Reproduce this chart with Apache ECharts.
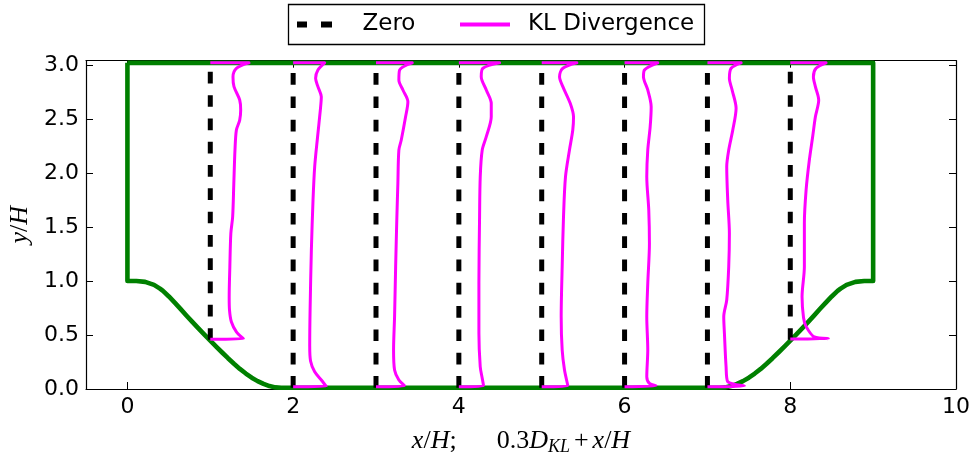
<!DOCTYPE html>
<html><head><meta charset="utf-8">
<script src="https://cdn.jsdelivr.net/npm/echarts@6/dist/echarts.min.js"></script>
<style>html,body{margin:0;padding:0;background:#fff}#c{width:976px;height:458px}</style>
</head><body><div id="c"></div>
<script>
// ---- data ----
const xTicks = [0, 2, 4, 6, 8, 10];
const yTicks = [0, 0.5, 1, 1.5, 2, 2.5, 3];
const wallTop = 3.02;
const hillLeft = [[0,1.0],[0.107,1.0],[0.214,0.992],[0.321,0.964],[0.393,0.929],[0.429,0.908],[0.5,0.857],[0.571,0.800],[0.643,0.740],[0.714,0.679],[0.786,0.619],[0.857,0.561],[0.929,0.504],[1.0,0.448],[1.071,0.393],[1.143,0.338],[1.214,0.285],[1.286,0.234],[1.357,0.186],[1.429,0.143],[1.5,0.105],[1.571,0.073],[1.643,0.047],[1.714,0.027],[1.786,0.015],[1.857,0.012],[1.929,0.012]];
const hillRight = [[7.071,0.012],[7.143,0.012],[7.214,0.015],[7.286,0.027],[7.357,0.047],[7.429,0.073],[7.5,0.105],[7.571,0.143],[7.643,0.186],[7.714,0.234],[7.786,0.285],[7.857,0.338],[7.929,0.393],[8.0,0.448],[8.071,0.504],[8.143,0.561],[8.214,0.619],[8.286,0.679],[8.357,0.740],[8.429,0.800],[8.5,0.857],[8.571,0.908],[8.607,0.929],[8.679,0.964],[8.786,0.992],[8.893,1.0],[9,1.0]];
const zeroStations = [1, 2, 3, 4, 5, 6, 7, 8];
const zeroBottom = [0.455, 0.012, 0.012, 0.012, 0.012, 0.012, 0.012, 0.455];
// KL divergence profiles, plotted as 0.3*D_KL + x/H (x, y/H)
const kl1 = [[1.0,0.46],[1.40,0.465],[1.315,0.53],[1.254,0.623],[1.232,0.73],[1.228,0.85],[1.236,1.13],[1.248,1.44],[1.27,1.595],[1.284,1.905],[1.298,2.213],[1.315,2.398],[1.355,2.49],[1.367,2.583],[1.355,2.676],[1.286,2.80],[1.274,2.89],[1.315,2.97],[1.467,3.02],[1.0,3.02]];
const kl2 = [[2.0,0.02],[2.40,0.025],[2.34,0.083],[2.26,0.16],[2.21,0.26],[2.2,0.4],[2.205,0.75],[2.22,1.287],[2.24,1.75],[2.26,2.058],[2.295,2.336],[2.328,2.583],[2.34,2.706],[2.299,2.80],[2.271,2.877],[2.299,2.954],[2.38,3.02],[2.0,3.02]];
const kl3 = [[3.0,0.02],[3.345,0.03],[3.276,0.083],[3.224,0.176],[3.212,0.361],[3.224,0.669],[3.237,1.132],[3.252,1.595],[3.264,1.905],[3.276,2.213],[3.305,2.306],[3.357,2.52],[3.385,2.66],[3.325,2.769],[3.276,2.861],[3.285,2.954],[3.438,3.02],[3.0,3.02]];
const kl4 = [[4.0,0.02],[4.298,0.03],[4.282,0.099],[4.258,0.206],[4.242,0.516],[4.242,0.979],[4.25,1.595],[4.258,1.966],[4.282,2.213],[4.331,2.336],[4.391,2.52],[4.391,2.645],[4.331,2.769],[4.27,2.892],[4.29,2.97],[4.491,3.02],[4.0,3.02]];
const kl5 = [[5.0,0.02],[5.315,0.03],[5.275,0.176],[5.247,0.361],[5.235,0.669],[5.247,1.132],[5.263,1.595],[5.287,1.966],[5.335,2.213],[5.375,2.398],[5.384,2.52],[5.344,2.645],[5.255,2.80],[5.215,2.892],[5.255,2.97],[5.424,3.02],[5.0,3.02]];
const kl6 = [[6.0,0.02],[6.381,0.03],[6.30,0.052],[6.268,0.114],[6.28,0.361],[6.268,0.669],[6.28,0.979],[6.30,1.349],[6.292,1.657],[6.268,1.966],[6.28,2.213],[6.309,2.429],[6.321,2.614],[6.28,2.769],[6.228,2.892],[6.24,2.954],[6.401,3.02],[6.0,3.02]];
const kl7 = [[7.0,0.02],[7.446,0.028],[7.245,0.068],[7.225,0.206],[7.205,0.516],[7.197,0.669],[7.233,0.824],[7.257,1.132],[7.265,1.44],[7.245,1.75],[7.233,2.058],[7.257,2.213],[7.306,2.398],[7.346,2.599],[7.298,2.769],[7.265,2.877],[7.286,2.97],[7.407,3.02],[7.0,3.02]];
const kl8 = [[8.0,0.463],[8.46,0.466],[8.29,0.482],[8.19,0.58],[8.16,0.66],[8.142,0.855],[8.17,1.132],[8.17,1.534],[8.191,1.843],[8.23,2.12],[8.27,2.336],[8.303,2.52],[8.343,2.676],[8.303,2.80],[8.279,2.892],[8.311,2.97],[8.432,3.02],[8.0,3.02]];
const klProfiles = [kl1, kl2, kl3, kl4, kl5, kl6, kl7, kl8];

// ---- chart ----
const chart = echarts.init(document.getElementById('c'), null, {renderer: 'canvas'});
const geometry = [[0, wallTop]].concat(hillLeft, hillRight, [[9, wallTop], [0, wallTop]]);

const series = [{
  name: 'Geometry', type: 'line', data: geometry, symbol: 'none', silent: true,
  lineStyle: {color: '#008000', width: 4.6, join: 'round'}, z: 2
}];
zeroStations.forEach((x, i) => {
  series.push({
    name: 'Zero', type: 'line', symbol: 'none', silent: true, color: '#000',
    data: [[x, zeroBottom[i]], [x, wallTop]],
    lineStyle: {color: '#000', width: 5, type: [11.7, 11.6], cap: 'butt'}, z: 3
  });
});
klProfiles.forEach(p => {
  series.push({
    name: 'KL Divergence', type: 'line', symbol: 'none', silent: true, color: '#ff00ff',
    data: p, smooth: 0.3, lineStyle: {color: '#ff00ff', width: 3, join: 'round'}, z: 4
  });
});

const tickFont = {fontSize: 22, fontFamily: 'DejaVu Sans', color: '#000'};
const mathRich = {
  i: {fontFamily: 'Liberation Serif', fontStyle: 'italic', fontSize: 26, color: '#000', lineHeight: 30},
  n: {fontFamily: 'Liberation Serif', fontSize: 26, color: '#000', lineHeight: 30},
  p: {fontFamily: 'Liberation Serif', fontSize: 26, color: '#000', lineHeight: 30, padding: [0, 4, 0, 4]},
  sp: {fontFamily: 'Liberation Serif', fontSize: 26, width: 40, lineHeight: 30},
  sub: {fontFamily: 'Liberation Serif', fontStyle: 'italic', fontSize: 18, color: '#000', verticalAlign: 'bottom', lineHeight: 30}
};
const axisLineStyle = {color: '#000', width: 1.2};

chart.setOption({
  animation: false,
  backgroundColor: '#fff',
  grid: {left: 86, right: 20, top: 60.7, bottom: 69, containLabel: false, outerBoundsMode: 'none'},
  graphic: [{
    type: 'rect', z: 1, silent: true,
    shape: {x: 288.5, y: 4.5, width: 416, height: 40},
    style: {fill: 'none', stroke: '#000', lineWidth: 1.3}
  }],
  legend: [{
    left: 297, top: 13, padding: 0, itemWidth: 36, itemHeight: 6, itemGap: 0,
    selectedMode: false,
    data: [{name: 'Zero', icon: 'path://M0,0h10v6h-10zM24,0h11v6h-11z', itemStyle: {color: '#000', borderWidth: 0}}],
    textStyle: {fontSize: 23, fontFamily: 'DejaVu Sans', color: '#000', padding: [0, 0, 0, 25]}
  }, {
    left: 460, top: 13, padding: 0, itemWidth: 50, itemHeight: 4, itemGap: 0,
    selectedMode: false,
    data: [{name: 'KL Divergence', icon: 'rect', itemStyle: {color: '#ff00ff', borderWidth: 0}}],
    textStyle: {fontSize: 23, fontFamily: 'DejaVu Sans', color: '#000', padding: [0, 0, 0, 13]}
  }],
  xAxis: [{
    type: 'value', min: -0.5, max: 10, position: 'bottom',
    axisLine: {onZero: false, lineStyle: axisLineStyle},
    axisTick: {inside: true, length: 7, customValues: xTicks, lineStyle: {color: '#000', width: 1}},
    axisLabel: Object.assign({customValues: xTicks, margin: 7, formatter: v => String(v)}, tickFont),
    splitLine: {show: false},
    name: '{i|x}{n|/}{i|H}{n|;}{sp| }{n|0.3}{i|D}{sub|KL}{p|+}{i|x}{n|/}{i|H}',
    nameLocation: 'middle', nameGap: 37,
    nameTextStyle: {rich: mathRich}
  }, {
    type: 'value', min: -0.5, max: 10, position: 'top',
    axisLine: {onZero: false, lineStyle: axisLineStyle},
    axisTick: {inside: true, length: 7, customValues: xTicks, lineStyle: {color: '#000', width: 1}},
    axisLabel: {show: false, customValues: xTicks},
    splitLine: {show: false}
  }],
  yAxis: [{
    type: 'value', min: 0, max: 3.04, position: 'left',
    axisLine: {onZero: false, lineStyle: axisLineStyle},
    axisTick: {inside: true, length: 7, customValues: yTicks, lineStyle: {color: '#000', width: 1}},
    axisLabel: Object.assign({customValues: yTicks, margin: 7, formatter: v => v.toFixed(1)}, tickFont),
    splitLine: {show: false},
    name: '{i|y}{n|/}{i|H}', nameLocation: 'middle', nameGap: 50, nameRotate: 90,
    nameTextStyle: {rich: mathRich}
  }, {
    type: 'value', min: 0, max: 3.04, position: 'right',
    axisLine: {onZero: false, lineStyle: axisLineStyle},
    axisTick: {inside: true, length: 7, customValues: yTicks, lineStyle: {color: '#000', width: 1}},
    axisLabel: {show: false, customValues: yTicks},
    splitLine: {show: false}
  }],
  series: series
});
</script>
</body></html>
